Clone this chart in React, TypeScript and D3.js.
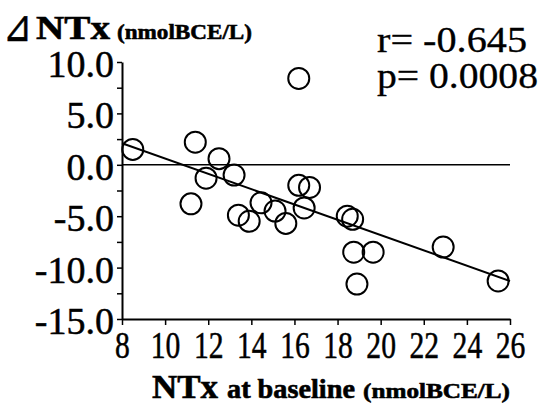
import React, { useEffect, useRef } from "react";
import * as d3 from "d3";

// baseline NTx (nmolBCE/L) and change in NTx
const baselineNTx = [8.5, 11.4, 11.2, 11.9, 12.5, 13.2, 13.4, 13.9, 14.45, 15.1, 15.6, 16.2, 16.2, 16.7, 16.45, 18.45, 18.7, 18.75, 19.65, 18.9, 22.9, 25.45];
const deltaNTx = [1.5, 2.2, -3.8, -1.3, 0.6, -1.0, -4.9, -5.5, -3.7, -4.5, -5.7, 8.4, -2.0, -2.2, -4.2, -5.0, -5.3, -8.5, -8.5, -11.6, -8.0, -11.3];

// regression line end points
const fitX = [8, 26];
const fitY = [2.1, -11.3];

const xTicks = [8, 10, 12, 14, 16, 18, 20, 22, 24, 26];
const yTicks = [-15, -12.5, -10, -7.5, -5, -2.5, 0, 2.5, 5, 7.5, 10];
const statLines = ["r= -0.645", "p= 0.0008"];

const App = () => {
  const svgRef = useRef<SVGSVGElement>(null);

  useEffect(() => {
    const width = 543;
    const height = 407;
    const font = "'Liberation Serif', 'Times New Roman', serif";

    const svg = d3.select(svgRef.current);
    svg.selectAll("*").remove();
    svg.attr("width", width).attr("height", height).style("font-family", font);

    const x = d3.scaleLinear().domain([8, 26]).range([122, 510]);
    const y = d3.scaleLinear().domain([-15, 10]).range([319, 62]);

    // Y axis
    const gy = svg.append("g")
      .attr("transform", `translate(${x(8)},0)`)
      .call(
        d3.axisLeft(y)
          .tickValues(yTicks)
          .tickSize(5)
          .tickSizeOuter(0)
          .tickPadding(3)
          .tickFormat(d => (+d % 5 === 0 ? (+d).toFixed(1) : ""))
      );
    gy.select(".domain").attr("stroke", "#000").attr("stroke-width", 2);
    gy.selectAll(".tick line").attr("stroke", "#000").attr("stroke-width", 1.5);
    gy.selectAll(".tick text")
      .attr("fill", "#000")
      .attr("stroke", "#000")
      .attr("stroke-width", 0.5)
      .attr("dy", "0.38em")
      .style("font-size", "38px")
      .style("font-family", font);

    // X axis
    const gx = svg.append("g")
      .attr("transform", `translate(0,${y(-15)})`)
      .call(
        d3.axisBottom(x)
          .tickValues(xTicks)
          .tickSize(6)
          .tickSizeOuter(0)
          .tickPadding(7)
          .tickFormat(d => String(d))
      );
    gx.select(".domain").attr("stroke", "#000").attr("stroke-width", 2);
    gx.selectAll(".tick line").attr("stroke", "#000").attr("stroke-width", 1.5);
    gx.selectAll(".tick text")
      .attr("fill", "#000")
      .attr("stroke", "#000")
      .attr("stroke-width", 0.5)
      .attr("transform", "scale(0.8,1)")
      .style("font-size", "37px")
      .style("font-family", font);

    // zero reference line
    svg.append("line")
      .attr("x1", x(8)).attr("x2", x(26))
      .attr("y1", y(0)).attr("y2", y(0))
      .attr("stroke", "#000").attr("stroke-width", 1.5);

    // regression line
    svg.append("line")
      .attr("x1", x(fitX[0])).attr("y1", y(fitY[0]))
      .attr("x2", x(fitX[1])).attr("y2", y(fitY[1]))
      .attr("stroke", "#000").attr("stroke-width", 2);

    // points
    svg.selectAll("circle.pt")
      .data(baselineNTx.map((v, i) => [v, deltaNTx[i]]))
      .enter()
      .append("circle")
      .attr("class", "pt")
      .attr("cx", d => x(d[0]))
      .attr("cy", d => y(d[1]))
      .attr("r", 10.5)
      .attr("fill", "none")
      .attr("stroke", "#000")
      .attr("stroke-width", 2);

    // y title
    const title = svg.append("text")
      .attr("y", 39)
      .attr("fill", "#000")
      .attr("stroke", "#000")
      .attr("stroke-width", 0.6)
      .style("font-weight", "bold");
    title.append("tspan")
      .attr("x", 3)
      .attr("y", 41)
      .attr("textLength", 29)
      .attr("lengthAdjust", "spacingAndGlyphs")
      .style("font-family", "'DejaVu Sans', sans-serif")
      .style("font-size", "44px")
      .style("font-weight", "normal")
      .text("⊿");
    title.append("tspan")
      .attr("x", 36)
      .attr("y", 39)
      .attr("textLength", 74)
      .attr("lengthAdjust", "spacingAndGlyphs")
      .style("font-size", "33px")
      .text("NTx");
    title.append("tspan")
      .attr("x", 117)
      .attr("textLength", 135)
      .attr("lengthAdjust", "spacingAndGlyphs")
      .style("font-size", "22px")
      .text("(nmolBCE/L)");

    // x title
    const xt = svg.append("text")
      .attr("y", 398)
      .attr("fill", "#000")
      .attr("stroke", "#000")
      .attr("stroke-width", 0.6)
      .style("font-weight", "bold");
    xt.append("tspan")
      .attr("x", 152)
      .attr("textLength", 66)
      .attr("lengthAdjust", "spacingAndGlyphs")
      .style("font-size", "33px")
      .text("NTx");
    xt.append("tspan")
      .attr("x", 227)
      .attr("textLength", 128)
      .attr("lengthAdjust", "spacingAndGlyphs")
      .style("font-size", "27px")
      .text("at baseline");
    xt.append("tspan")
      .attr("x", 363)
      .attr("textLength", 147)
      .attr("lengthAdjust", "spacingAndGlyphs")
      .style("font-size", "22px")
      .text("(nmolBCE/L)");

    // statistics
    svg.selectAll("text.stat")
      .data(statLines)
      .enter()
      .append("text")
      .attr("class", "stat")
      .attr("x", 377)
      .attr("y", (d, i) => (i === 0 ? 52 : 88))
      .attr("textLength", (d, i) => (i === 0 ? 150 : 161))
      .attr("lengthAdjust", "spacingAndGlyphs")
      .attr("fill", "#000")
      .attr("stroke", "#000")
      .attr("stroke-width", 0.3)
      .style("font-size", "35px")
      .text(d => d);
  }, []);

  return (
    <div style={{ position: "absolute", left: 0, top: 0 }}>
      <svg ref={svgRef}></svg>
    </div>
  );
};

export default App;
